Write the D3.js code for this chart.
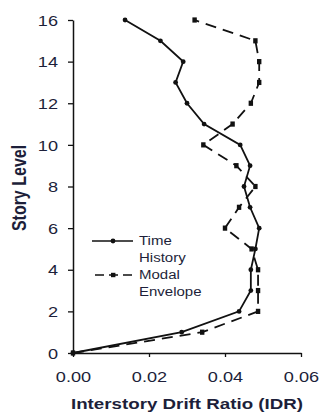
<!DOCTYPE html>
<html>
<head>
<meta charset="utf-8">
<script src="https://cdnjs.cloudflare.com/ajax/libs/d3/7.8.5/d3.min.js"></script>
<style>
  body { margin: 0; background: #fff; }
  svg { display: block; font-family: Arial, "Liberation Sans", sans-serif; }
</style>
</head>
<body>
<svg></svg>
<script>
const w = 321;
const h = 412;
const sx = 1.25; // the figure is stretched sideways

// Data
const levels = [0, 1, 2, 3, 4, 5, 6, 7, 8, 9, 10, 11, 12, 13, 14, 15, 16];
const timeHistory = [0, 0.0286, 0.0437, 0.0468, 0.0468, 0.048, 0.049, 0.0466, 0.045,
  0.0466, 0.044, 0.0345, 0.030, 0.027, 0.029, 0.023, 0.0137];
const modalEnvelope = [0, 0.034, 0.0487, 0.0487, 0.0487, 0.047, 0.040, 0.0437, 0.048,
  0.043, 0.0343, 0.042, 0.0468, 0.049, 0.049, 0.048, 0.032];
const xTicks = [0, 0.02, 0.04, 0.06];
const yTicks = [0, 2, 4, 6, 8, 10, 12, 14, 16];
const legendNames = [["Time", "History"], ["Modal", "Envelope"]];

const ink = "#1d1f3a";

const svg = d3.select("svg")
    .attr("width", w)
    .attr("height", h);

const x = d3.scaleLinear().domain([0, 0.06]).range([73, 301]);
const y = d3.scaleLinear().domain([0, 16]).range([353, 20]);

// Axes
const xAxis = svg.append("g")
    .attr("transform", `translate(0,${y(0)})`)
    .call(d3.axisBottom(x).tickValues(xTicks).tickSize(4).tickSizeOuter(0)
      .tickFormat(d3.format(".2f")));

const yAxis = svg.append("g")
    .attr("transform", `translate(${x(0)},0)`)
    .call(d3.axisLeft(y).tickValues(yTicks).tickSize(5).tickSizeOuter(0));

[xAxis, yAxis].forEach(a => {
  a.select(".domain").attr("stroke", "#111").attr("stroke-width", 1.5);
  a.selectAll(".tick line").attr("stroke", "#111").attr("stroke-width", 1.3);
  a.selectAll("text").attr("fill", ink).attr("font-size", 14.5);
});

xAxis.selectAll("text")
    .attr("y", 0).attr("dy", 0)
    .attr("transform", `translate(0,29) scale(${sx},1)`);

yAxis.selectAll("text")
    .attr("x", 0).attr("dy", "0.36em")
    .attr("transform", `translate(-15,0) scale(${sx},1)`);

// Axis titles
svg.append("text")
    .attr("transform", `translate(187,409) scale(${sx},1)`)
    .attr("text-anchor", "middle")
    .attr("font-size", 15)
    .attr("font-weight", "bold")
    .attr("fill", ink)
    .text("Interstory Drift Ratio (IDR)");

svg.append("text")
    .attr("transform", `translate(26,188) scale(${sx},1) rotate(-90)`)
    .attr("text-anchor", "middle")
    .attr("font-size", 16)
    .attr("font-weight", "bold")
    .attr("fill", ink)
    .text("Story Level");

// Lines
const line = d3.line()
    .x(d => x(d[0]))
    .y(d => y(d[1]));

const series = [
  { values: timeHistory, dash: null, marker: "circle" },
  { values: modalEnvelope, dash: "11,7", marker: "square" }
];

series.forEach(s => {
  const pts = s.values.map((v, i) => [v, levels[i]]);
  svg.append("path")
      .datum(pts)
      .attr("fill", "none")
      .attr("stroke", "#111")
      .attr("stroke-width", 1.8)
      .attr("stroke-dasharray", s.dash)
      .attr("d", line);

  if (s.marker === "circle") {
    svg.selectAll(null)
        .data(pts)
        .enter()
        .append("circle")
        .attr("cx", d => x(d[0]))
        .attr("cy", d => y(d[1]))
        .attr("r", 2.4)
        .attr("fill", "#111");
  } else {
    svg.selectAll(null)
        .data(pts)
        .enter()
        .append("rect")
        .attr("x", d => x(d[0]) - 2.2)
        .attr("y", d => y(d[1]) - 2.6)
        .attr("width", 4.4)
        .attr("height", 5.2)
        .attr("fill", "#111");
  }
});

// Legend
const legend = svg.append("g");
const legendY = [241, 275];

series.forEach((s, i) => {
  legend.append("line")
      .attr("x1", i === 0 ? 92 : 95)
      .attr("x2", 133)
      .attr("y1", legendY[i])
      .attr("y2", legendY[i])
      .attr("stroke", "#111")
      .attr("stroke-width", 1.5)
      .attr("stroke-dasharray", i === 0 ? null : "9,5");

  if (s.marker === "circle") {
    legend.append("circle")
        .attr("cx", 113).attr("cy", legendY[i]).attr("r", 2.4).attr("fill", "#111");
  } else {
    legend.append("rect")
        .attr("x", 111).attr("y", legendY[i] - 2.2)
        .attr("width", 4.4).attr("height", 4.4).attr("fill", "#111");
  }

  legendNames[i].forEach((t, j) => {
    legend.append("text")
        .attr("transform", `translate(139,${legendY[i] + 3.8 + j * 17}) scale(${sx},1)`)
        .attr("font-size", 12)
        .attr("fill", ink)
        .text(t);
  });
});
</script>
</body>
</html>
